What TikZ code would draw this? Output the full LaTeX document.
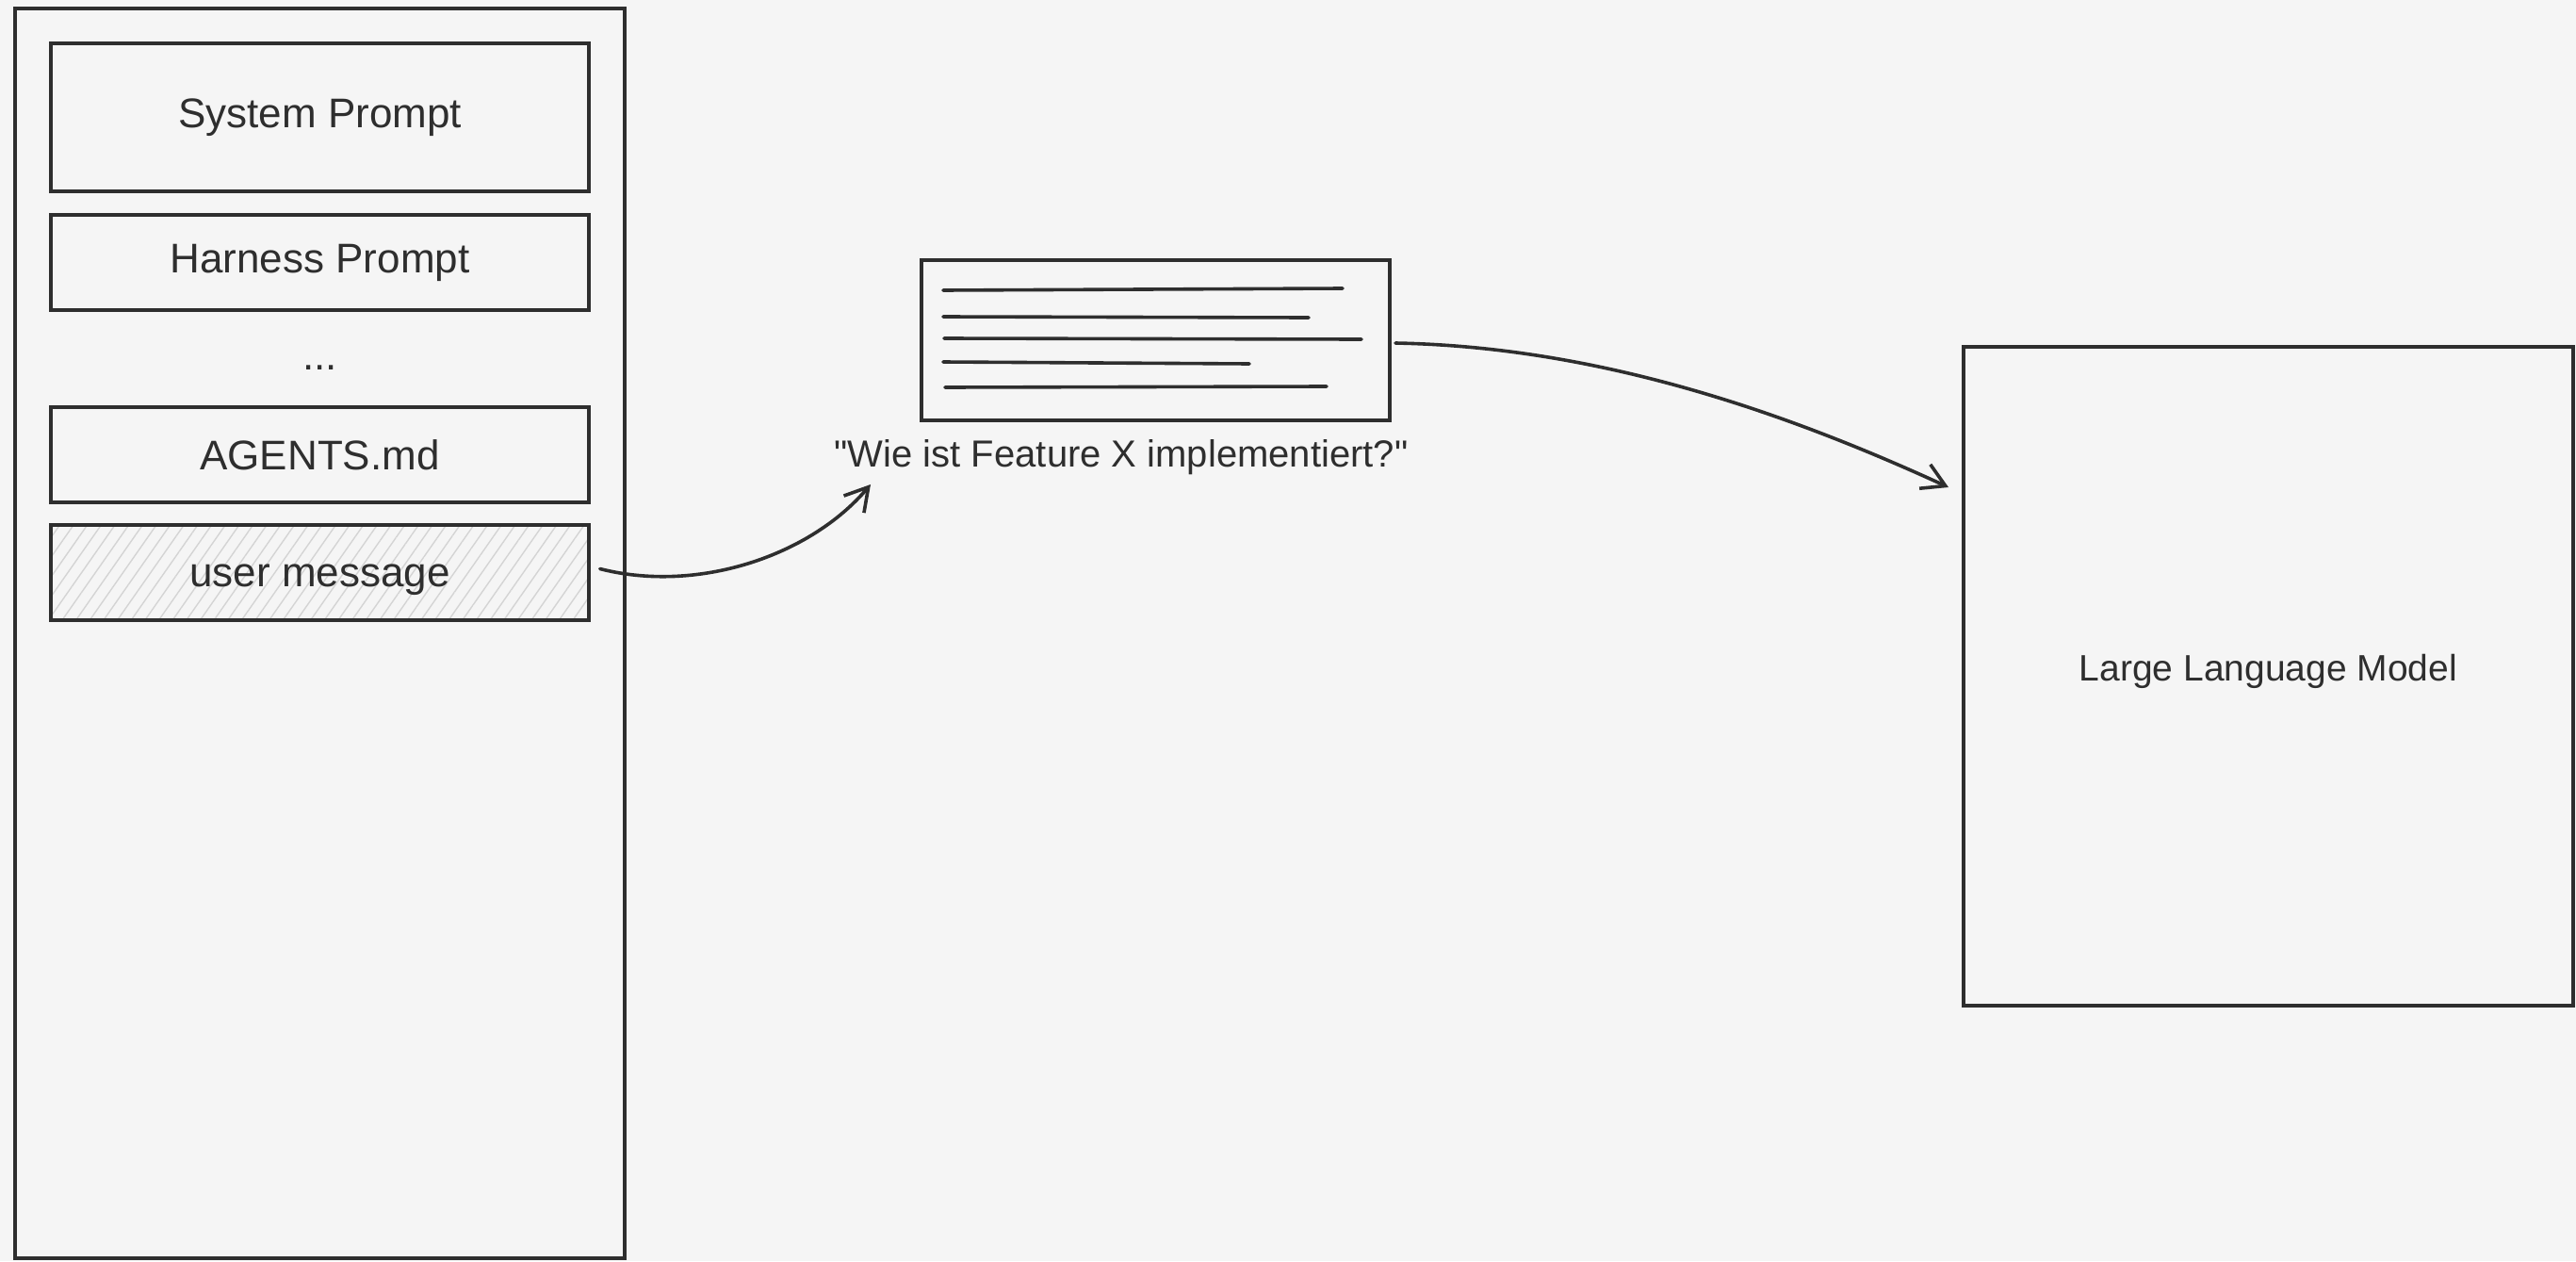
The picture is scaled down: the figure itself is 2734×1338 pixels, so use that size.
\documentclass[tikz,border=0pt]{standalone}
\usepackage{fontspec}
\setmainfont{Liberation Sans}[Ligatures=TeXOff]
\usetikzlibrary{arrows.meta,calc,patterns.meta}
\definecolor{bg}{HTML}{F5F5F5}
\definecolor{ink}{HTML}{2E2E2E}
\definecolor{hatch}{HTML}{D4D4D4}
\tikzset{
  box/.style={draw=ink, line width=2pt, rectangle, inner sep=0pt, text=ink},
  boxlabel/.style={font=\fontsize{22}{26}\selectfont},
  conn/.style={draw=ink, line width=1.8pt, line cap=round,
    -{Straight Barb[length=12pt,width=14pt,line width=1.8pt]}},
  docline/.style={draw=ink, line width=1.8pt, line cap=round},
}
\begin{document}
\begin{tikzpicture}[x=0.5pt,y=-0.5pt]
\useasboundingbox (0,0) rectangle (2734,1338);
\fill[bg] (0,0) rectangle (2734,1338);

% left container
\node[box, minimum width=323.5pt, minimum height=663pt] (container) at (339.5,672) {};
\node[box, boxlabel, minimum width=285.5pt, minimum height=78.5pt] (system) at (339.5,124.5) {System Prompt};
\node[box, boxlabel, minimum width=285.5pt, minimum height=50.5pt] (harness) at (339.5,278.5) {Harness Prompt};
\node[text=ink, boxlabel] (dots) at (339.5,390) {...};
\node[box, boxlabel, minimum width=285.5pt, minimum height=50.5pt] (agents) at (339.5,482.5) {AGENTS.md};
\node[box, boxlabel, minimum width=285.5pt, minimum height=50.5pt,
  pattern={Lines[angle=55,distance=6pt,line width=0.7pt]}, pattern color=hatch] (user) at (339.5,607.5) {};
\node[text=ink, boxlabel] (userlabel) at ($(user.center)+(0,8)$) {user message};

% document
\node[box, minimum width=248.5pt, minimum height=85pt] (doc) at (1226.5,361) {};
\draw[docline] (1001,308) -- (1425,306);
\draw[docline] (1001,336) -- (1389,337);
\draw[docline] (1002,359) -- (1445,360);
\draw[docline] (1001,384) -- (1326,386);
\draw[docline] (1003,411) -- (1408,410);
\node[text=ink, font=\fontsize{20}{24}\selectfont] (quote) at (1190,485) {"Wie ist Feature X implementiert?"};

% LLM
\node[box, minimum width=323.5pt, minimum height=349.5pt] (llm) at (2407.5,717.5) {};
\node[text=ink, font=\fontsize{19.5}{23}\selectfont] (llmlabel) at (2407.5,712) {Large Language Model};

% connectors
\coordinate (a1s) at ($(user.east)+(11,-4)$);
\coordinate (a1e) at (924,514);
\draw[conn] (a1s) .. controls (740,630) and (860,590) .. (a1e);
\coordinate (a2s) at ($(doc.east)+(4,3)$);
\coordinate (a2e) at ($(llm.north west)+(-14,151)$);
\draw[conn] (a2s) .. controls (1700,368) and (1900,440) .. (a2e);
\end{tikzpicture}
\end{document}
